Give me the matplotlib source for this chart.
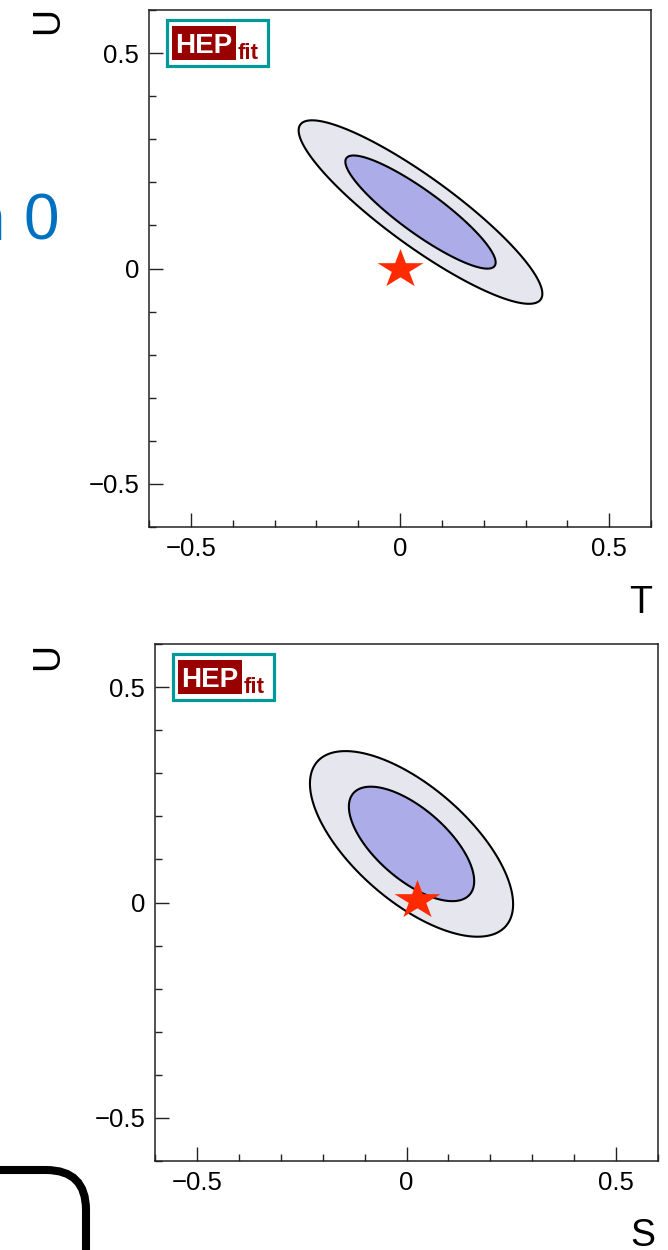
import numpy as np
import matplotlib
matplotlib.use("Agg")
import matplotlib.pyplot as plt
from matplotlib.patches import Rectangle, FancyBboxPatch
from matplotlib.transforms import IdentityTransform
from matplotlib.ticker import MultipleLocator

# ---------------- data ----------------
x_labels = ["T", "S"]
y_labels = ["U", "U"]
center_x = [0.049, 0.012]
center_y = [0.131, 0.136]
sigma_x = [0.119, 0.099]
sigma_y = [0.087, 0.088]
rho = [-0.89, -0.65]
star_x = [0.0, 0.025]
star_y = [0.0, 0.005]
major_ticks = [-0.5, 0.0, 0.5]
tick_labels = ["\u22120.5", "0", "0.5"]
axis_limits = [-0.6, 0.6]
prob_levels = [0.68, 0.95]

# ---------------- style ----------------
plt.rcParams['font.family'] = ['Liberation Sans', 'DejaVu Sans']
W, H = 668, 1250
fig = plt.figure(figsize=(W / 100, H / 100), dpi=100)

def fx(px):
    return px / W

def fy(py):
    return 1 - py / H

inner_col = '#abacE8'
outer_col = '#e6e7ee'
star_col = '#ff2a00'

# axes boxes in image pixels: left, top, right, bottom
axes_px = [(149, 10, 651, 527), (155, 644, 658, 1161)]
xlabel_pos = [(652, 613), (655, 1246)]
ylabel_pos = [(58, 21), (58, 656)]

# squashed star marker
ang = np.pi / 2 + np.arange(10) * np.pi / 5
rad = np.where(np.arange(10) % 2 == 0, 1.0, 0.382)
star_verts = np.column_stack([rad * np.cos(ang), 0.85 * rad * np.sin(ang)])

grid = np.linspace(axis_limits[0], axis_limits[1], 600)
GX, GY = np.meshgrid(grid, grid)
r2 = [-2 * np.log(1 - p) for p in prob_levels]

for i in range(2):
    l, t, r, b = axes_px[i]
    ax = fig.add_axes([fx(l), fy(b), (r - l) / W, (b - t) / H])
    dx = (GX - center_x[i]) / sigma_x[i]
    dy = (GY - center_y[i]) / sigma_y[i]
    d2 = (dx ** 2 - 2 * rho[i] * dx * dy + dy ** 2) / (1 - rho[i] ** 2)
    ax.contourf(GX, GY, d2, levels=[0, r2[0], r2[1]], colors=[inner_col, outer_col])
    ax.contour(GX, GY, d2, levels=r2, colors='black', linewidths=1.5)
    ax.plot([star_x[i]], [star_y[i]], marker=star_verts, ms=33, color=star_col,
            mec=star_col, mew=0, ls='none', zorder=5)

    ax.set_xlim(axis_limits)
    ax.set_ylim(axis_limits)
    ax.set_xticks(major_ticks, labels=tick_labels)
    ax.set_yticks(major_ticks, labels=tick_labels)
    ax.xaxis.set_minor_locator(MultipleLocator(0.1))
    ax.yaxis.set_minor_locator(MultipleLocator(0.1))
    ax.tick_params(which='both', direction='in', top=False, right=False,
                   width=1.0, color='#222222')
    ax.tick_params(which='major', length=10, labelsize=18.5, pad=7)
    ax.tick_params(which='minor', length=5)
    for s in ax.spines.values():
        s.set_linewidth(1.1)
        s.set_color('#222222')

    # axis titles
    fig.text(fx(xlabel_pos[i][0]), fy(xlabel_pos[i][1]), x_labels[i], fontsize=27,
             ha='right', va='baseline')
    fig.text(fx(ylabel_pos[i][0]), fy(ylabel_pos[i][1]), y_labels[i], fontsize=27,
             rotation=90, rotation_mode='anchor', ha='center', va='baseline')

    # HEPfit logo
    fig.add_artist(Rectangle((fx(l + 18), fy(t + 10 + 46)), 101 / W, 46 / H,
                             transform=fig.transFigure, facecolor='white',
                             edgecolor='#009999', lw=2.3, zorder=10))
    fig.add_artist(Rectangle((fx(l + 23), fy(t + 16 + 34)), 64 / W, 34 / H,
                             transform=fig.transFigure, facecolor='#990000',
                             edgecolor='none', zorder=11))
    fig.text(fx(l + 55), fy(t + 43), 'HEP', color='white', fontsize=20,
             fontweight='bold', ha='center', va='baseline', zorder=12)
    fig.text(fx(l + 89), fy(t + 49), 'fit', color='#990000', fontsize=16,
             fontweight='bold', ha='left', va='baseline', zorder=12)

# stray blue text fragment at left (partly off the canvas)
fig.text(fx(5), fy(240), 'n', color='#0070c0', fontsize=46,
         ha='right', va='baseline')
fig.text(fx(59), fy(240), '0', color='#0070c0', fontsize=46,
         ha='right', va='baseline')

# rounded frame fragment at bottom-left
frame = FancyBboxPatch((-300, -150), 386, 230,
                       boxstyle='round,pad=0,rounding_size=40',
                       transform=IdentityTransform(), fill=False,
                       lw=5.8, ec='black', zorder=10)
fig.add_artist(frame)

fig.savefig('out.png', dpi=100)
